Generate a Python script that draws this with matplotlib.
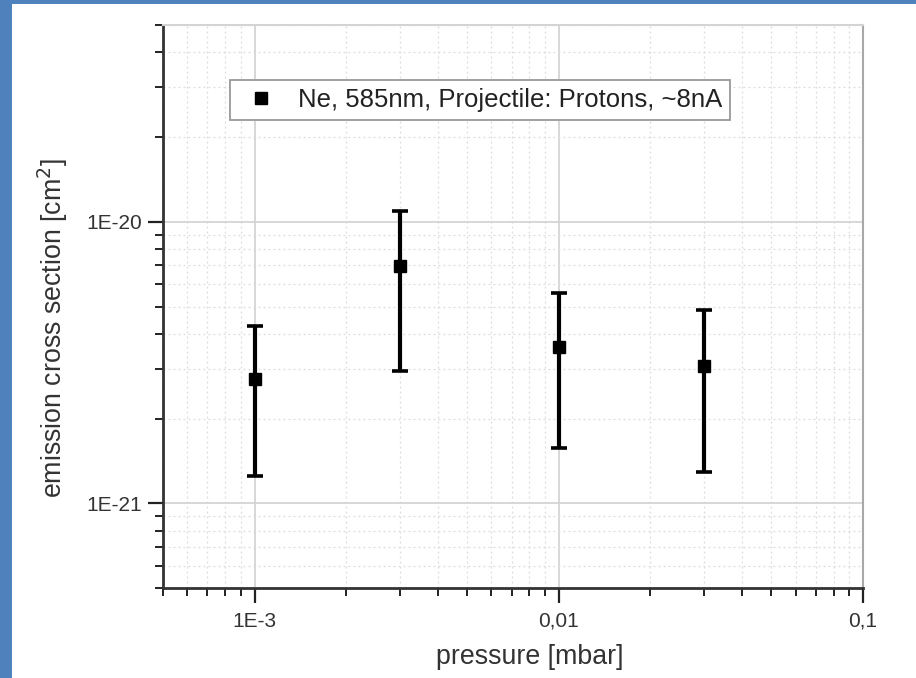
"""
Ne 585 nm emission cross section vs. pressure (proton projectile).
"""
import numpy as np
import matplotlib
matplotlib.use('Agg')
import matplotlib.pyplot as plt
from matplotlib.patches import Rectangle
from matplotlib.ticker import FixedLocator, FixedFormatter, LogLocator, NullFormatter

plt.rcParams['font.family'] = ['Liberation Sans', 'DejaVu Sans']

# data
pressure = [1e-3, 3e-3, 1e-2, 3e-2]
sigma = [2.76e-21, 6.97e-21, 3.59e-21, 3.08e-21]
sigma_hi = [4.26e-21, 1.094e-20, 5.59e-21, 4.86e-21]
sigma_lo = [1.25e-21, 2.96e-21, 1.57e-21, 1.29e-21]

x_ticks = [1e-3, 1e-2, 1e-1]
x_tick_labels = ['1E-3', '0,01', '0,1']
y_ticks = [1e-21, 1e-20]
y_tick_labels = ['1E-21', '1E-20']

legend_label = 'Ne, 585nm, Projectile: Protons, ~8nA'

BLUE = '#4f81bd'
TEXT = '#333333'

fig = plt.figure(figsize=(9.16, 6.78), dpi=100)
fig.patch.set_facecolor('white')
# blue slide frame on the left and top
fig.patches.append(Rectangle((0, 0), 12 / 916, 1, transform=fig.transFigure,
                             facecolor=BLUE, edgecolor='none', zorder=0))
fig.patches.append(Rectangle((0, 1 - 4 / 678), 1, 4 / 678, transform=fig.transFigure,
                             facecolor=BLUE, edgecolor='none', zorder=0))

ax = fig.add_axes([163 / 916, 1 - 588 / 678, 700 / 916, 563 / 678])

y = np.array(sigma)
yerr = np.array([y - np.array(sigma_lo), np.array(sigma_hi) - y])
ax.errorbar(pressure, sigma, yerr=yerr, fmt='none', ecolor='black',
            elinewidth=3, capsize=5.5, capthick=2.6, zorder=4)
ax.plot(pressure, sigma, 's', color='black', ms=8.5, label=legend_label, zorder=5)

ax.set_xscale('log')
ax.set_yscale('log')
ax.set_xlim(5e-4, 0.1)
ax.set_ylim(5e-22, 5e-20)

ax.xaxis.set_major_locator(FixedLocator(x_ticks))
ax.xaxis.set_major_formatter(FixedFormatter(x_tick_labels))
ax.yaxis.set_major_locator(FixedLocator(y_ticks))
ax.yaxis.set_major_formatter(FixedFormatter(y_tick_labels))
ax.xaxis.set_minor_locator(LogLocator(base=10, subs=np.arange(2, 10), numticks=20))
ax.yaxis.set_minor_locator(LogLocator(base=10, subs=np.arange(2, 10), numticks=20))
ax.xaxis.set_minor_formatter(NullFormatter())
ax.yaxis.set_minor_formatter(NullFormatter())

ax.tick_params(which='major', direction='out', length=11, width=1.6,
               color='#222222', labelsize=15, labelcolor=TEXT, pad=6)
ax.tick_params(axis='y', which='major', pad=4)
ax.tick_params(which='minor', direction='out', length=6, width=1.4, color='#222222')
ax.tick_params(top=False, right=False, which='both')

ax.grid(True, which='major', color='#d4d4d4', linewidth=1.3, linestyle='-')
ax.grid(True, which='minor', color='#dcdcdc', linewidth=0.9, linestyle=(0, (1.5, 2.5)))
ax.set_axisbelow(True)

for side in ['left', 'bottom']:
    ax.spines[side].set_color('#333333')
    ax.spines[side].set_linewidth(2)
ax.spines['top'].set_color('#d4d4d4')
ax.spines['top'].set_linewidth(1.5)
ax.spines['right'].set_color('#a8a8a8')
ax.spines['right'].set_linewidth(1.5)

ax.set_xlabel('pressure [mbar]', fontsize=19.3, color=TEXT)
ax.set_ylabel('emission cross section [cm$^2$]', fontsize=19.3, color=TEXT)
ax.xaxis.set_label_coords(0.524, -0.1)
ax.yaxis.set_label_coords(-0.133, 0.462)

leg = ax.legend(loc='center', bbox_to_anchor=(0.453, 0.867), fontsize=18.5,
                frameon=True, fancybox=False, edgecolor='#999999', framealpha=1,
                handlelength=1.8, handletextpad=0.55, borderpad=0.3,
                borderaxespad=0, numpoints=1)
leg.get_frame().set_linewidth(1.3)
for t in leg.get_texts():
    t.set_color('#222222')

fig.savefig('out.png', dpi=100)
print('Saved: out.png')
